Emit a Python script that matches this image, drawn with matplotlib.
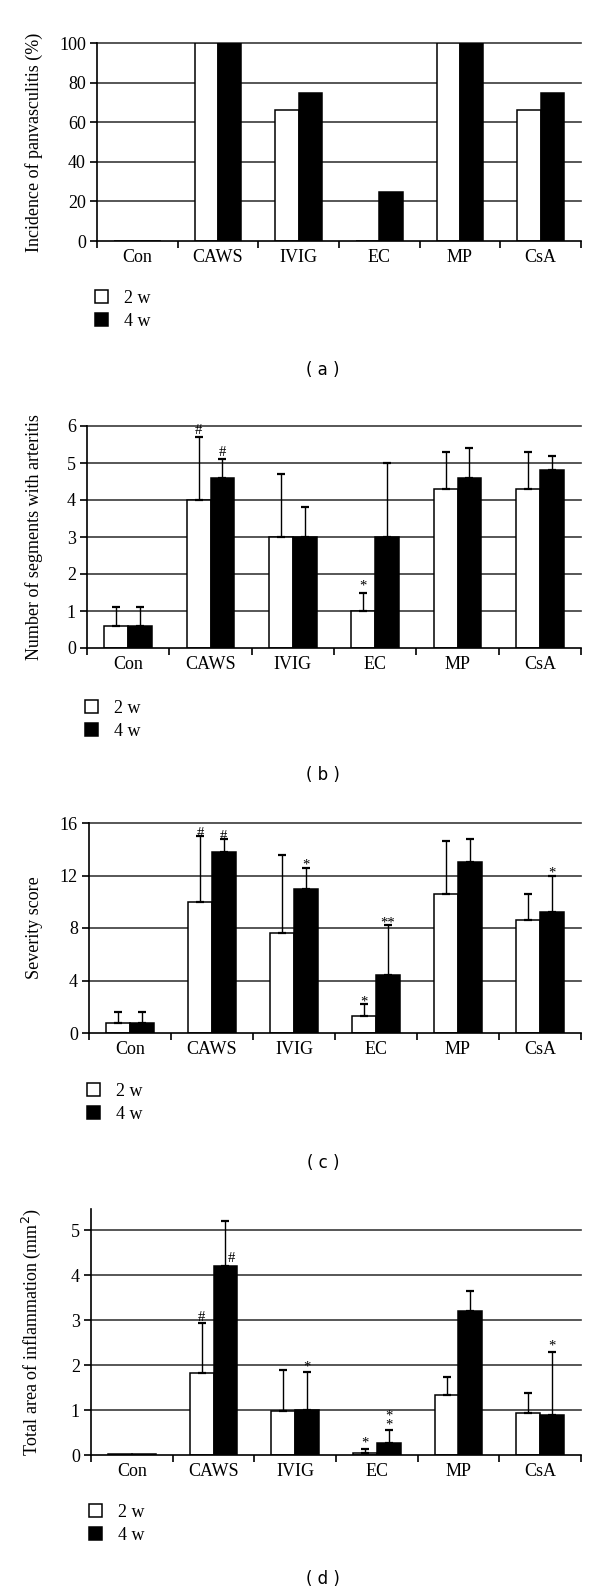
import numpy as np
import matplotlib
matplotlib.use("Agg")
import matplotlib.pyplot as plt

plt.rcParams['font.family'] = ['Liberation Serif', 'DejaVu Serif']

groups = ["Con", "CAWS", "IVIG", "EC", "MP", "CsA"]
series = ["2 w", "4 w"]

# (a) incidence of panvasculitis (%)
inc_2w = [0, 100, 66, 0, 100, 66]
inc_4w = [0, 100, 75, 25, 100, 75]

# (b) number of segments with arteritis
seg_2w = [0.6, 4.0, 3.0, 1.0, 4.3, 4.3]
seg_2w_sd = [0.5, 1.7, 1.7, 0.5, 1.0, 1.0]
seg_4w = [0.6, 4.6, 3.0, 3.0, 4.6, 4.8]
seg_4w_sd = [0.5, 0.5, 0.8, 2.0, 0.8, 0.4]
seg_2w_sig = ["", "#", "", "*", "", ""]
seg_4w_sig = ["", "#", "", "", "", ""]

# (c) severity score
sev_2w = [0.8, 10.0, 7.6, 1.3, 10.6, 8.6]
sev_2w_sd = [0.8, 5.0, 6.0, 0.9, 4.0, 2.0]
sev_4w = [0.8, 13.8, 11.0, 4.4, 13.0, 9.2]
sev_4w_sd = [0.8, 1.0, 1.6, 3.8, 1.8, 2.8]
sev_2w_sig = ["", "#", "", "*", "", ""]
sev_4w_sig = ["", "#", "*", "**", "", "*"]

# (d) total area of inflammation (mm2)
area_2w = [0.02, 1.83, 0.98, 0.04, 1.33, 0.94]
area_2w_sd = [0.0, 1.10, 0.91, 0.10, 0.40, 0.44]
area_4w = [0.02, 4.20, 1.00, 0.26, 3.20, 0.90]
area_4w_sd = [0.0, 1.00, 0.84, 0.29, 0.45, 1.40]
area_2w_sig = ["", "#", "", "*", "", ""]
area_4w_sig = ["", "#", "*", "*\n*", "", "*"]
# marks drawn beside the error line (just over the bar) instead of above the cap
area_4w_side = [False, True, False, False, False, False]

W, H = 600, 1596
fig = plt.figure(figsize=(W / 100, H / 100), dpi=100)

x = np.arange(len(groups)) + 0.5
bw = 0.29
FS = 13


def panel(rect, v2, v4, ylim, yticks, ylabel, leg_y, tag, tag_y,
          sd2=None, sd4=None, sig2=None, sig4=None, sig_off=0.0, side4=None):
    ax = fig.add_axes([rect[0] / W, 1 - rect[3] / H,
                       (rect[1] - rect[0]) / W, (rect[3] - rect[2]) / H])
    for yt in yticks[1:]:
        ax.axhline(yt, color="#3a3a3a", lw=1.2, zorder=0, clip_on=False)
    b2 = ax.bar(x - bw / 2, v2, bw, color="white", edgecolor="black", lw=1.1, zorder=2, label=series[0])
    b4 = ax.bar(x + bw / 2, v4, bw, color="black", edgecolor="black", lw=1.1, zorder=2, label=series[1])
    for vals, sd, sig, xs, side in ((v2, sd2, sig2, x - bw / 2, None),
                                    (v4, sd4, sig4, x + bw / 2, side4)):
        if sd is None:
            continue
        vals = np.array(vals); sd = np.array(sd)
        m = sd > 0
        ax.errorbar(xs[m], vals[m], yerr=[np.zeros(m.sum()), sd[m]], fmt="none",
                    ecolor="black", elinewidth=1.0, capsize=3.2, capthick=1.6, zorder=3)
        for i, s in enumerate(sig):
            if not s:
                continue
            if side is not None and side[i]:
                ax.text(xs[i] + 0.03, vals[i] + 0.02, s, ha="left", va="bottom",
                        fontsize=10.5, zorder=4)
            else:
                ax.text(xs[i], vals[i] + sd[i] + sig_off, s, ha="center", va="bottom",
                        fontsize=10.5, linespacing=0.55, zorder=4)
    ax.set_xlim(0, len(groups))
    ax.set_ylim(*ylim)
    ax.set_yticks(yticks)
    ax.set_xticks(np.arange(len(groups) + 1))
    ax.set_xticklabels([])
    ax.set_xticks(x, minor=True)
    ax.set_xticklabels(groups, minor=True, fontsize=FS)
    ax.tick_params(axis="x", which="major", length=5, width=1.2, direction="out")
    ax.tick_params(axis="x", which="minor", length=0, pad=6)
    ax.tick_params(axis="y", length=5, width=1.2, direction="out", pad=3, labelsize=FS)
    for s in ("top", "right"):
        ax.spines[s].set_visible(False)
    for s in ("left", "bottom"):
        ax.spines[s].set_linewidth(1.2)
    ax.set_ylabel(ylabel, fontsize=FS)
    ax.yaxis.set_label_coords((43 - rect[0]) / (rect[1] - rect[0]), 0.5)
    fig.legend(handles=[b2, b4], loc="upper left", frameon=False, fontsize=FS,
               bbox_to_anchor=(rect[0] / W - 0.004, 1 - leg_y / H),
               handlelength=0.72, handleheight=0.72, handletextpad=0.9,
               labelspacing=0.32, borderpad=0, borderaxespad=0)
    fig.text(323 / W, 1 - tag_y / H, tag, ha="center", va="center",
             fontsize=12, family="DejaVu Sans")
    return ax


panel((97, 581, 43, 241), inc_2w, inc_4w, (0, 100), [0, 20, 40, 60, 80, 100],
      "Incidence of panvasculitis (%)", 290, "( a )", 370)
panel((87, 581, 426, 648), seg_2w, seg_4w, (0, 6), [0, 1, 2, 3, 4, 5, 6],
      "Number of segments with arteritis", 700, "( b )", 775,
      seg_2w_sd, seg_4w_sd, seg_2w_sig, seg_4w_sig, 0.0)
panel((89, 581, 823, 1033), sev_2w, sev_4w, (0, 16), [0, 4, 8, 12, 16],
      "Severity score", 1083, "( c )", 1163,
      sev_2w_sd, sev_4w_sd, sev_2w_sig, sev_4w_sig, -0.3)
panel((91, 581, 1209, 1455), area_2w, area_4w, (0, 5.47), [0, 1, 2, 3, 4, 5],
      "Total area of inflammation (mm$^2$)", 1504, "( d )", 1579,
      area_2w_sd, area_4w_sd, area_2w_sig, area_4w_sig, -0.02, area_4w_side)

fig.savefig("out.png", dpi=100)
